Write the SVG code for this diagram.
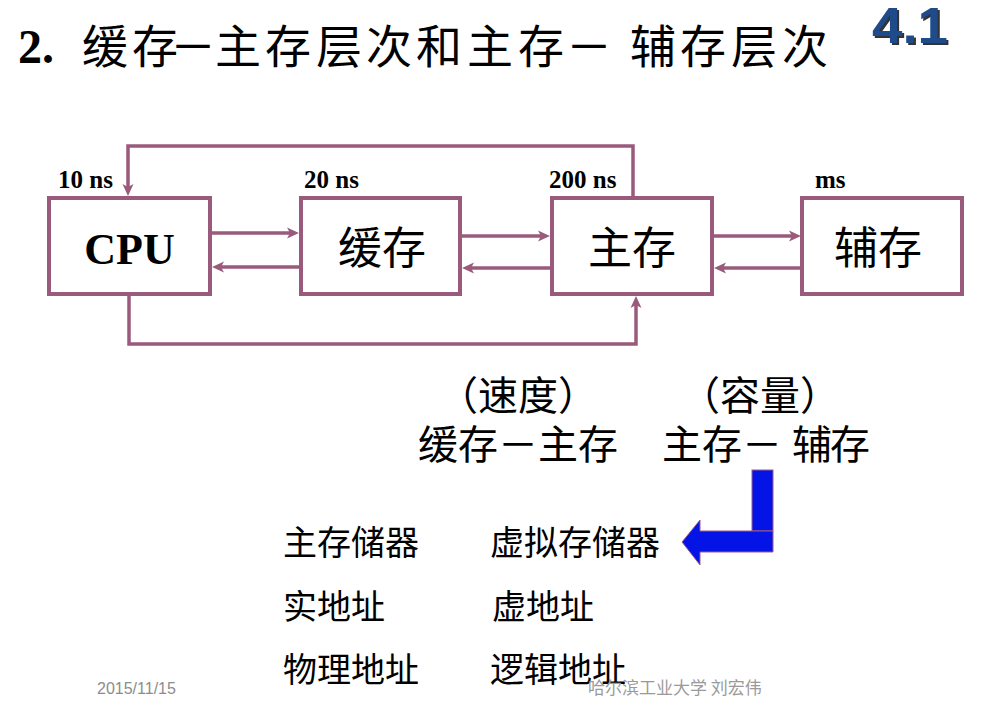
<svg xmlns="http://www.w3.org/2000/svg" width="982" height="709" viewBox="0 0 982 709">
<defs>
<style>
.box{fill:#fff;stroke:#9a5a7c;stroke-width:4}
.con{fill:none;stroke:#9a5a7c;stroke-width:3.5;stroke-linejoin:miter}
.cjk{font-family:"Noto Sans CJK SC","Noto Sans CJK JP",sans-serif;fill:#000}
.lat{font-family:"Liberation Serif","Times New Roman",serif;font-weight:bold;fill:#000}
.lbl{font-family:"Liberation Serif","Times New Roman",serif;font-weight:bold;font-size:25px;fill:#000}
.foot{font-family:"Liberation Sans",Arial,sans-serif;font-size:16px;fill:#8c8c8c}
.footc{font-family:"Noto Sans CJK SC",sans-serif;font-size:17px;fill:#9a9a9a}
.badge{font-family:"Liberation Sans",Arial,sans-serif;font-weight:bold;font-size:50px}
</style>
<marker id="ah" markerUnits="userSpaceOnUse" viewBox="0 0 12 12" markerWidth="12" markerHeight="12" refX="4" refY="6" orient="auto">
<path d="M0,0.5 L12,6 L0,11.5 L3,6 z" fill="#9a5a7c"/>
</marker>
</defs>
<rect width="982" height="709" fill="#fff"/>

<g id="title">
<text x="18" y="63" class="lat" font-size="48">2.</text>
<text y="63" class="cjk" font-size="46" x="82 132 170 215 265 316 366 416 467 518 566 630 680 731 782">缓存－主存层次和主存－辅存层次</text>
</g>
<g id="badge">
<text x="874" y="45" class="badge" fill="#333" textLength="76" lengthAdjust="spacingAndGlyphs">4.1</text>
<text x="872" y="43" class="badge" fill="#1f4b8a" textLength="76" lengthAdjust="spacingAndGlyphs">4.1</text>
</g>

<g id="connectors">
<path class="con" d="M212,233 H291" marker-end="url(#ah)"/>
<path class="con" d="M299,267 H220" marker-end="url(#ah)"/>
<path class="con" d="M462,236 H542" marker-end="url(#ah)"/>
<path class="con" d="M550,268 H470" marker-end="url(#ah)"/>
<path class="con" d="M714,236 H793" marker-end="url(#ah)"/>
<path class="con" d="M801,268 H722" marker-end="url(#ah)"/>
<path class="con" d="M633,196 V146 H128 V188" marker-end="url(#ah)"/>
<path class="con" d="M129,296 V344 H636 V304" marker-end="url(#ah)"/>
</g>

<g id="latency">
<text x="58" y="188" class="lbl">10 ns</text>
<text x="304" y="188" class="lbl">20 ns</text>
<text x="549" y="188" class="lbl">200 ns</text>
<text x="815" y="188" class="lbl">ms</text>
</g>

<g id="cpu">
<rect class="box" x="49" y="198" width="161" height="96"/>
<text x="129.5" y="264" class="lat" font-size="44" text-anchor="middle">CPU</text>
</g>
<g id="cache">
<rect class="box" x="301" y="198" width="159" height="96"/>
<text x="382" y="264" class="cjk" font-size="44" text-anchor="middle">缓存</text>
</g>
<g id="main">
<rect class="box" x="552" y="198" width="160" height="96"/>
<text x="632" y="264" class="cjk" font-size="44" text-anchor="middle">主存</text>
</g>
<g id="aux">
<rect class="box" x="802" y="198" width="160" height="96"/>
<text x="878" y="264" class="cjk" font-size="44" text-anchor="middle">辅存</text>
</g>

<g id="levels">
<text y="410" class="cjk" font-size="40" x="438 478 518 558">（速度）</text>
<text y="410" class="cjk" font-size="40" x="680 720 760 800">（容量）</text>
<text y="459" class="cjk" font-size="40" x="418 458 498 538 578">缓存－主存</text>
<text y="459" class="cjk" font-size="40" x="662 702 742 792 830">主存－辅存</text>
</g>

<g id="bluearrow">
<rect x="752" y="470" width="21" height="61" fill="#0514e6" stroke="#a05a8a" stroke-width="1"/>
<path d="M773,531 H700 V520 L682,542 L700,565 V552 H773 Z" fill="#0514e6" stroke="#a05a8a" stroke-width="1"/>
</g>

<g id="terms">
<text x="283" y="555" class="cjk" font-size="34">主存储器</text>
<text x="490" y="555" class="cjk" font-size="34">虚拟存储器</text>
<text x="283" y="619" class="cjk" font-size="34">实地址</text>
<text x="492" y="619" class="cjk" font-size="34">虚地址</text>
<text x="283" y="682" class="cjk" font-size="34">物理地址</text>
<text x="490" y="682" class="cjk" font-size="34">逻辑地址</text>
</g>

<g id="footer">
<text x="97" y="694" class="foot">2015/11/15</text>
<text x="588" y="694" class="footc">哈尔滨工业大学 刘宏伟</text>
</g>
</svg>
